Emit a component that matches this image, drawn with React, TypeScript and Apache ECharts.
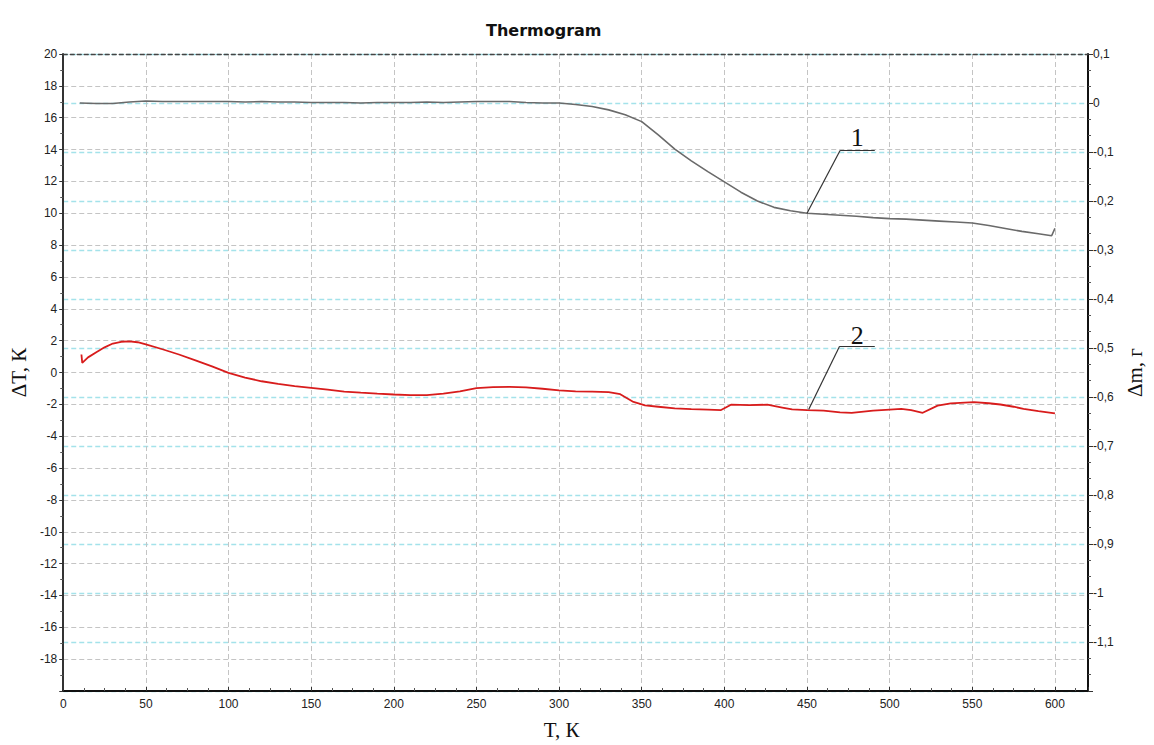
import React, { useEffect, useRef } from "react";
import * as echarts from "echarts";

// Curve 1: mass change (right axis, Δm, g)
const massT = [10, 20, 30, 40, 50, 60, 70, 80, 90, 100, 110, 120, 130, 140, 150, 160, 170, 180, 190, 200, 210, 220, 230, 240, 250, 260, 270, 280, 290, 300, 310, 320, 330, 340, 350, 360, 370, 380, 390, 400, 410, 420, 430, 440, 450, 460, 470, 480, 490, 500, 510, 520, 530, 540, 550, 560, 570, 580, 590, 598, 600];
const massValues = [0.0, -0.001, -0.001, 0.002, 0.004, 0.003, 0.003, 0.003, 0.003, 0.003, 0.002, 0.003, 0.002, 0.002, 0.001, 0.001, 0.001, 0.0, 0.001, 0.001, 0.001, 0.002, 0.001, 0.002, 0.003, 0.003, 0.003, 0.001, 0.0, 0.0, -0.003, -0.007, -0.014, -0.024, -0.038, -0.065, -0.094, -0.118, -0.14, -0.161, -0.182, -0.2, -0.213, -0.22, -0.225, -0.227, -0.229, -0.231, -0.234, -0.236, -0.237, -0.239, -0.241, -0.243, -0.245, -0.25, -0.256, -0.262, -0.267, -0.271, -0.256];

// Curve 2: temperature difference (left axis, ΔT, K)
const dtaT = [11, 11.5, 15, 20, 25, 30, 35, 40, 45, 50, 60, 70, 80, 90, 100, 110, 120, 130, 140, 150, 160, 170, 180, 190, 200, 210, 220, 230, 240, 250, 260, 270, 280, 290, 300, 310, 320, 330, 337, 345, 352, 360, 370, 380, 390, 398, 404, 415, 426, 435, 441, 450, 460, 470, 477, 490, 500, 507, 513, 520, 529, 537, 551, 560, 567, 575, 581, 590, 600];
const dtaValues = [1.13, 0.61, 0.95, 1.27, 1.58, 1.82, 1.93, 1.96, 1.9, 1.76, 1.46, 1.13, 0.76, 0.38, -0.02, -0.32, -0.55, -0.72, -0.85, -0.96, -1.08, -1.2, -1.27, -1.33, -1.38, -1.42, -1.42, -1.33, -1.18, -0.98, -0.92, -0.9, -0.93, -1.02, -1.12, -1.18, -1.2, -1.23, -1.36, -1.85, -2.07, -2.15, -2.25, -2.3, -2.33, -2.36, -2.02, -2.05, -2.02, -2.2, -2.32, -2.36, -2.4, -2.5, -2.53, -2.4, -2.33, -2.28, -2.36, -2.53, -2.08, -1.94, -1.86, -1.93, -2.01, -2.15, -2.28, -2.42, -2.57];

const titleText = "Thermogram";
const xName = "T, К";
const leftName = "ΔT, К";
const rightName = "Δm, г";
const curveLabels = ["1", "2"];

const xRange = [0, 620, 50];
const leftRange = [-20, 20, 2];
const rightRange = [-1.2, 0.1, 0.1];

const tickFont = { fontFamily: "Liberation Sans, Arial, sans-serif", fontSize: 12, color: "#222" };
const serif = "Liberation Serif, Times New Roman, serif";

export default function App() {
  const ref = useRef<HTMLDivElement>(null);
  useEffect(() => {
    if (!ref.current) return;
    const chart = echarts.init(ref.current, null, { renderer: "svg" });
    const massData = massT.map((t, i) => [t, massValues[i]]);
    const dtaData = dtaT.map((t, i) => [t, dtaValues[i]]);
    const leader = { color: "#333", width: 1.2, type: "solid" as const };
    chart.setOption({
      animation: false,
      backgroundColor: "#fff",
      title: {
        text: titleText,
        left: 481,
        top: 17,
        textStyle: { fontFamily: "DejaVu Sans, Verdana, sans-serif", fontSize: 16, fontWeight: "bold", color: "#111" },
      },
      grid: { left: 61, right: 66, top: 54, bottom: 53, containLabel: false },
      xAxis: [
        {
          type: "value",
          position: "bottom",
          min: xRange[0],
          max: xRange[1],
          interval: xRange[2],
          name: xName,
          nameLocation: "middle",
          nameGap: 28,
          nameTextStyle: { fontFamily: serif, fontSize: 21, color: "#111", padding: [0, 28, 0, 0] },
          axisLine: { onZero: false, lineStyle: { color: "#111", width: 2 } },
          axisTick: { show: true, inside: true, length: 4, lineStyle: { color: "#333" } },
          minorTick: { show: true, splitNumber: 4, length: 3, lineStyle: { color: "#555" } },
          axisLabel: {
            ...tickFont,
            margin: 7,
            formatter: (v: number) => (v > 600 ? "" : String(v)),
          },
          splitLine: { show: true, lineStyle: { color: "#c4c4c4", type: [5, 3], width: 1 } },
        },
        {
          type: "value",
          position: "top",
          min: xRange[0],
          max: xRange[1],
          axisLine: { show: true, onZero: false, lineStyle: { color: "#444", width: 1.3, type: [4, 3] } },
          axisTick: { show: false },
          axisLabel: { show: false },
          splitLine: { show: false },
        },
      ],
      yAxis: [
        {
          type: "value",
          position: "left",
          min: leftRange[0],
          max: leftRange[1],
          interval: leftRange[2],
          name: leftName,
          nameLocation: "middle",
          nameGap: 27,
          nameRotate: 90,
          nameTextStyle: { fontFamily: serif, fontSize: 21, color: "#111" },
          axisLine: { show: true, onZero: false, lineStyle: { color: "#333", width: 2 } },
          axisTick: { show: true, length: 4, lineStyle: { color: "#333" } },
          minorTick: { show: true, splitNumber: 2, length: 3, lineStyle: { color: "#555" } },
          axisLabel: {
            ...tickFont,
            margin: 6,
            formatter: (v: number) => (Math.round(v) === -20 ? "" : String(Math.round(v))),
          },
          splitLine: { show: true, lineStyle: { color: "#c4c4c4", type: [5, 3], width: 1 } },
        },
        {
          type: "value",
          position: "right",
          min: rightRange[0],
          max: rightRange[1],
          interval: rightRange[2],
          name: rightName,
          nameLocation: "middle",
          nameGap: 36,
          nameRotate: 90,
          nameTextStyle: { fontFamily: serif, fontSize: 21, color: "#111" },
          axisLine: { show: true, onZero: false, lineStyle: { color: "#111", width: 2 } },
          axisTick: { show: true, length: 5, lineStyle: { color: "#333" } },
          minorTick: { show: true, splitNumber: 3, length: 3, lineStyle: { color: "#555" } },
          axisLabel: {
            ...tickFont,
            margin: 5,
            formatter: (v: number) => {
              const r = Math.round(v * 10) / 10;
              if (r <= -1.2) return "";
              return String(r).replace(".", ",");
            },
          },
          splitLine: { show: true, lineStyle: { color: "#a4e2ea", type: [5, 3], width: 1.3 } },
        },
      ],
      series: [
        {
          name: "mass",
          type: "line",
          xAxisIndex: 0,
          yAxisIndex: 1,
          data: massData,
          showSymbol: false,
          lineStyle: { color: "#6a6a6a", width: 1.6 },
          z: 3,
          markLine: {
            silent: true,
            symbol: ["none", "none"],
            label: { show: false },
            lineStyle: leader,
            data: [
              [{ coord: [450, -0.225] }, { coord: [470, -0.097] }],
              [{ coord: [470, -0.097] }, { coord: [491, -0.097] }],
            ],
          },
          markPoint: {
            silent: true,
            symbol: "rect",
            symbolSize: 1,
            itemStyle: { color: "rgba(0,0,0,0)" },
            label: { show: true, position: "inside", fontFamily: serif, fontSize: 26, color: "#111", formatter: curveLabels[0] },
            data: [{ coord: [480.4, -0.071] }],
          },
        },
        {
          name: "dta",
          type: "line",
          xAxisIndex: 0,
          yAxisIndex: 0,
          data: dtaData,
          showSymbol: false,
          lineStyle: { color: "#d81c1c", width: 1.8 },
          z: 4,
          markLine: {
            silent: true,
            symbol: ["none", "none"],
            label: { show: false },
            lineStyle: leader,
            data: [
              [{ coord: [451, -2.32] }, { coord: [469.7, 1.65] }],
              [{ coord: [469.7, 1.65] }, { coord: [491, 1.65] }],
            ],
          },
          markPoint: {
            silent: true,
            symbol: "rect",
            symbolSize: 1,
            itemStyle: { color: "rgba(0,0,0,0)" },
            label: { show: true, position: "inside", fontFamily: serif, fontSize: 26, color: "#111", formatter: curveLabels[1] },
            data: [{ coord: [480.4, 2.32] }],
          },
        },
      ],
    });
    return () => chart.dispose();
  }, []);
  return (
    <div
      ref={ref}
      style={{ position: "fixed", left: 0, top: 0, width: 1154, height: 745, background: "#fff" }}
    />
  );
}
